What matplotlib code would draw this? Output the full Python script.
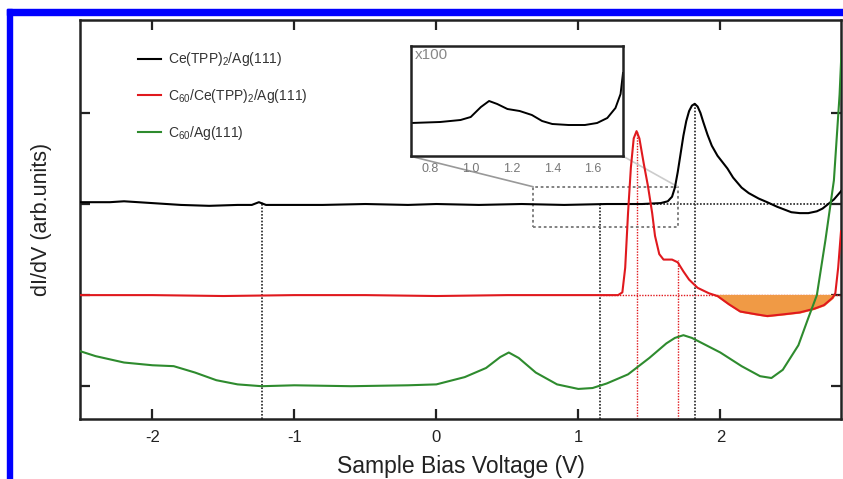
import matplotlib
matplotlib.use("Agg")
import matplotlib.pyplot as plt
from matplotlib.patches import Rectangle

plt.rcParams['font.family'] = ['Liberation Sans', 'DejaVu Sans']
plt.rcParams['mathtext.fontset'] = 'custom'
plt.rcParams['mathtext.rm'] = 'Liberation Sans'
plt.rcParams['mathtext.it'] = 'Liberation Sans'
plt.rcParams['lines.solid_joinstyle'] = 'round'

# 数据 (偏压 V, dI/dV 任意单位, 各曲线有偏移)
black_v = [-2.51, -2.3, -2.2, -2.0, -1.8, -1.6, -1.4, -1.3, -1.25, -1.2, -1.1, -0.8, -0.5, -0.2, 0.0, 0.3, 0.6, 0.9, 1.2,
           1.45, 1.58, 1.63, 1.66, 1.68, 1.70, 1.72, 1.74, 1.76, 1.78, 1.80, 1.82, 1.84, 1.86, 1.88, 1.91, 1.94, 1.98,
           2.02, 2.05, 2.09, 2.15, 2.2, 2.27, 2.33, 2.40, 2.45, 2.50, 2.56, 2.62, 2.68, 2.72, 2.76, 2.80, 2.85]
black_y = [2.02, 2.02, 2.03, 2.01, 1.99, 1.98, 1.99, 1.99, 2.02, 1.99, 1.99, 1.99, 2.0, 1.99, 2.0, 1.99, 2.0, 1.99, 2.0,
           2.0, 2.01, 2.03, 2.08, 2.18, 2.35, 2.55, 2.75, 2.91, 3.02, 3.08, 3.10, 3.07, 3.0, 2.90, 2.76, 2.64, 2.53,
           2.45, 2.39, 2.29, 2.18, 2.12, 2.06, 2.02, 1.97, 1.94, 1.91, 1.90, 1.90, 1.92, 1.95, 2.0, 2.05, 2.14]

red_v = [-2.51, -2.0, -1.5, -1.0, -0.5, 0.0, 0.5, 1.0, 1.28, 1.31, 1.33, 1.35, 1.37, 1.39, 1.41, 1.43, 1.46, 1.49, 1.52,
         1.54, 1.57, 1.60, 1.66, 1.70, 1.74, 1.78, 1.84, 1.92, 1.98, 2.06, 2.14, 2.25, 2.33, 2.45, 2.56, 2.66, 2.73, 2.79,
         2.81, 2.83, 2.85]
red_y = [1.0, 1.0, 0.99, 1.0, 1.0, 0.99, 1.0, 1.0, 1.0, 1.03, 1.3, 1.9, 2.4, 2.72, 2.80, 2.72, 2.45, 2.20, 1.90,
         1.65, 1.45, 1.39, 1.39, 1.36, 1.26, 1.17, 1.08, 1.02, 0.99, 0.90, 0.82, 0.79, 0.77, 0.79, 0.81, 0.85, 0.89, 0.97,
         1.02, 1.3, 1.7]

green_v = [-2.51, -2.4, -2.2, -2.0, -1.85, -1.7, -1.55, -1.4, -1.23, -1.0, -0.6, -0.2, 0.0, 0.2, 0.35, 0.45, 0.51, 0.58,
           0.7, 0.85, 1.0, 1.1, 1.2, 1.35, 1.5, 1.62, 1.68, 1.74, 1.80, 1.85, 2.0, 2.15, 2.28, 2.36, 2.44, 2.55, 2.62,
           2.68, 2.74, 2.80, 2.84, 2.86]
green_y = [0.385, 0.33, 0.26, 0.23, 0.22, 0.15, 0.066, 0.02, 0.0, 0.01, 0.0, 0.01, 0.02, 0.10, 0.20, 0.32, 0.37, 0.31,
           0.15, 0.02, -0.03, -0.02, 0.03, 0.13, 0.31, 0.47, 0.53, 0.56, 0.53, 0.49, 0.37, 0.22, 0.11, 0.09, 0.18, 0.45,
           0.75, 1.0, 1.6, 2.26, 3.2, 3.9]

# 插图 (x100)
inset_v = [0.707, 0.85, 0.95, 1.0, 1.05, 1.09, 1.13, 1.18, 1.24, 1.3, 1.35, 1.40, 1.48, 1.56, 1.62, 1.67, 1.71, 1.735, 1.747]
inset_y = [33, 34, 36, 39, 49, 55, 52, 47, 45, 41, 35, 32, 31, 31, 33, 38, 48, 62, 83]

labels = ['Ce(TPP)$_2$/Ag(111)', 'C$_{60}$/Ce(TPP)$_2$/Ag(111)', 'C$_{60}$/Ag(111)']
colors = ['black', '#e0191e', '#2e8b2e']

fig = plt.figure(figsize=(8.43, 4.79), dpi=100)
ax = fig.add_axes([80 / 843, 1 - 419 / 479, 761 / 843, 399 / 479])

ax.plot(black_v, black_y, color=colors[0], lw=1.5, label=labels[0], zorder=4)
ax.plot(red_v, red_y, color=colors[1], lw=1.5, label=labels[1], zorder=4)
ax.plot(green_v, green_y, color=colors[2], lw=1.5, label=labels[2], zorder=4)

# 填充区域
ax.fill_between(red_v, red_y, 1.0, where=[(v > 1.95 and y < 1.0) for v, y in zip(red_v, red_y)],
                interpolate=True, color='#f09a45', zorder=3)

ymin = -0.36
# 虚线参考线
for v, top in [(-1.23, 2.02), (1.15, 2.0), (1.82, 3.10)]:
    ax.plot([v, v], [ymin, top], color='#222222', lw=1.2, ls=(0, (1, 1)), zorder=2)
for v, top in [(1.41, 2.80), (1.70, 1.38)]:
    ax.plot([v, v], [ymin, top], color='#e0191e', lw=1.0, ls=(0, (1, 1)), zorder=2)
ax.plot([1.15, 2.85], [2.0, 2.0], color='#222222', lw=1.2, ls=(0, (1, 1)), zorder=2)
ax.plot([1.15, 2.85], [1.0, 1.0], color='#e0191e', lw=1.0, ls=(0, (1, 1)), zorder=2)

# 灰色虚线框与连接线
ax.add_patch(Rectangle((0.68, 1.75), 1.02, 0.44, fill=False, ec='#777777', lw=1.3, ls=(0, (1.5, 1.5)), zorder=2))
ax.plot([0.68, -0.17], [2.19, 2.52], color='#999999', lw=1.2, zorder=2)
ax.plot([1.70, 1.32], [2.19, 2.52], color='#cccccc', lw=1.2, zorder=2)

ax.set_xlim(-2.51, 2.85)
ax.set_ylim(ymin, 4.02)
ax.set_xticks([-2, -1, 0, 1, 2])
ax.set_xticklabels(['-2', '-1', '0', '1', '2'])
ax.set_yticks([0, 1, 2, 3])
ax.set_yticklabels([])
ax.tick_params(direction='in', length=7, width=1.6, top=True, right=True, labelsize=12, colors='#222222', pad=8)
for s in ax.spines.values():
    s.set_linewidth(1.8)
    s.set_color('#222222')
ax.set_xlabel('Sample Bias Voltage (V)', fontsize=16.5, color='#222222', labelpad=7)
ax.set_ylabel('dI/dV (arb.units)', fontsize=15.5, color='#222222', labelpad=12)

leg = ax.legend(loc='upper left', bbox_to_anchor=(0.06, 0.955), frameon=False, fontsize=10,
                handlelength=1.65, handletextpad=0.5, labelspacing=1.35)
for t in leg.get_texts():
    t.set_color('#333333')

# 插图
axin = fig.add_axes([411 / 843, 1 - 156 / 479, 212 / 843, 110 / 479])
axin.plot(inset_v, inset_y, color='black', lw=1.4)
axin.set_xlim(0.707, 1.747)
axin.set_ylim(0, 110)
axin.set_xticks([0.8, 1.0, 1.2, 1.4, 1.6])
axin.set_xticklabels(['0.8', '1.0', '1.2', '1.4', '1.6'])
axin.set_yticks([])
axin.tick_params(length=0, labelsize=9, colors='#777777', pad=5)
for s in axin.spines.values():
    s.set_linewidth(1.8)
    s.set_color('#222222')
axin.text(0.02, 0.98, 'x100', transform=axin.transAxes, ha='left', va='top', fontsize=11, color='#888888')

# 蓝色边框
fig.patches.append(Rectangle((7 / 843, 1 - 15 / 479), 1, 6 / 479, transform=fig.transFigure, color='#0000ff', zorder=10))
fig.patches.append(Rectangle((7 / 843, 0), 5 / 843, 1 - 9 / 479, transform=fig.transFigure, color='#0000ff', zorder=10))

fig.savefig('out.png', dpi=100)
